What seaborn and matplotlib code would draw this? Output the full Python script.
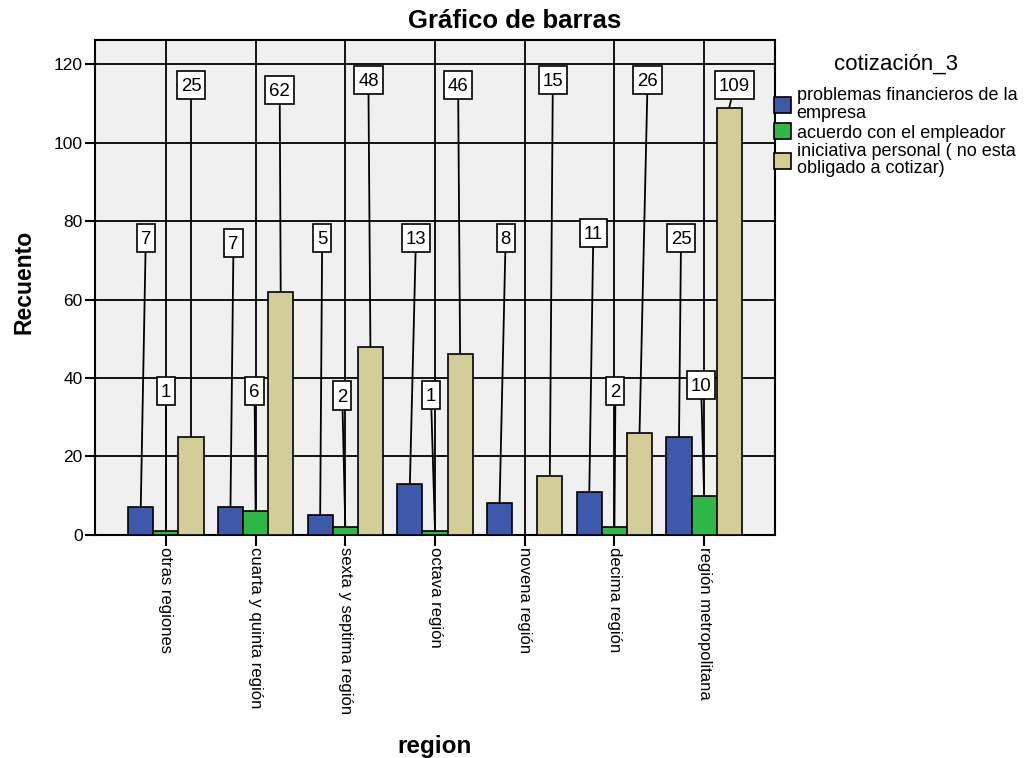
import numpy as np
import pandas as pd
import matplotlib
matplotlib.use("Agg")
import matplotlib.pyplot as plt
import seaborn as sns
from matplotlib.patches import Patch
from matplotlib.path import Path

# ---- data ----
regions = ["otras regiones", "cuarta y quinta región", "sexta y septima región",
           "octava región", "novena región", "decima región", "región metropolitana"]
series = ["problemas financieros de la\nempresa",
          "acuerdo con el empleador",
          "iniciativa personal ( no esta\nobligado a cotizar)"]
problemas = [7, 7, 5, 13, 8, 11, 25]
acuerdo = [1, 6, 2, 1, 0, 2, 10]
iniciativa = [25, 62, 48, 46, 15, 26, 109]
yticks = [0, 20, 40, 60, 80, 100, 120]

# ---- layout of value-label boxes (data units) ----
label_y = [
    [75.7, 74.4, 75.7, 75.7, 75.7, 77.0, 75.7],
    [36.7, 36.7, 35.5, 35.7, 36.0, 36.7, 38.2],
    [114.7, 113.5, 116.0, 114.7, 116.0, 116.0, 114.7],
]
label_dx_px = [
    [5, 3, 2, 6, 6, 4, 2],
    [0, -1, -3, -4, 0, 1, -3],
    [0, -1, -2, -2, 3, 8, 5],
]
colors = ["#3E58AC", "#2EB848", "#D3CE97"]

df = pd.DataFrame({
    "region": regions * 3,
    "serie": [s for s in series for _ in regions],
    "n": problemas + acuerdo + iniciativa,
})

sns.set_style("ticks")
plt.rcParams["font.family"] = ["Liberation Sans", "DejaVu Sans"]
for k in ["text.color", "axes.labelcolor", "xtick.color", "ytick.color"]:
    plt.rcParams[k] = "black"


def label_box(x0, y0, width, height, mutation_size):
    px = 0.21 * mutation_size
    pb = 0.20 * mutation_size
    pt = 0.40 * mutation_size
    xa, xb = x0 - px, x0 + width + px
    ya, yb = y0 - pb, y0 + height + pt
    return Path([(xa, ya), (xb, ya), (xb, yb), (xa, yb), (xa, ya)],
                [Path.MOVETO, Path.LINETO, Path.LINETO, Path.LINETO, Path.CLOSEPOLY])


fig = plt.figure(figsize=(10.30, 7.58), dpi=100)
ax = fig.add_axes([95 / 1030, 1 - 534.7 / 758, 680 / 1030, 495 / 758])
ax.set_facecolor("#F0F0F0")

sns.barplot(data=df, x="region", y="n", hue="serie", hue_order=series,
            order=regions, palette=colors, width=0.84, saturation=1,
            edgecolor="black", linewidth=1.2, legend=False, ax=ax, zorder=3)

ax.set_xlim(-0.79, 6.79)
ax.set_ylim(0, 126.3)
ax.set_yticks(yticks)
ax.set_axisbelow(True)
ax.grid(True, color="black", linewidth=1.3)

px_per_cat = 680 / (6.79 + 0.79)
for si, cont in enumerate(ax.containers):
    for ci, bar in enumerate(cont):
        h = bar.get_height()
        if h <= 0:
            continue
        bx = bar.get_x() + bar.get_width() / 2
        lx = bx + label_dx_px[si][ci] / px_per_cat
        ly = label_y[si][ci] - 0.45
        ax.plot([lx, bx], [ly, h], color="black", lw=1.3, zorder=4,
                solid_capstyle="butt")
        ax.text(lx, ly, f"{int(h)}", ha="center", va="center", fontsize=13.4,
                zorder=6,
                bbox=dict(boxstyle=label_box, fc="white", ec="black", lw=1.2))

for sp in ax.spines.values():
    sp.set_visible(True)
    sp.set_linewidth(1.5)
    sp.set_color("black")

ax.tick_params(axis="x", length=8, width=1.5, pad=1, labelsize=12, color="black")
ax.tick_params(axis="y", length=7, width=1.5, pad=2, labelsize=12.5, color="black")
ax.set_xticks(range(len(regions)))
ax.set_xticklabels(regions, rotation=270, ha="center", va="top")

ax.set_xlabel("region", fontsize=17.5, fontweight="bold")
ax.xaxis.set_label_coords(0.5, -0.405)
ax.set_ylabel("Recuento", fontsize=16.5, fontweight="bold")
ax.yaxis.set_label_coords(-0.088, 0.51)

fig.text(0.5, 1 - 28.3 / 758, "Gráfico de barras", ha="center", va="baseline",
         fontsize=18.5, fontweight="bold")

handles = [Patch(facecolor=c, edgecolor="black", linewidth=1.2) for c in colors]
leg = fig.legend(handles, series, loc="upper left",
                 bbox_to_anchor=(774 / 1030, 1 - 54 / 758), frameon=False,
                 title="cotización_3", title_fontsize=16, fontsize=13,
                 handlelength=0.95, handleheight=1.0, handletextpad=0.3,
                 borderpad=0, borderaxespad=0, labelspacing=0.1)
for t in leg.get_texts():
    t.set_linespacing(1.0)
leg._legend_box.sep = 9

fig.savefig("out.png", dpi=100)
